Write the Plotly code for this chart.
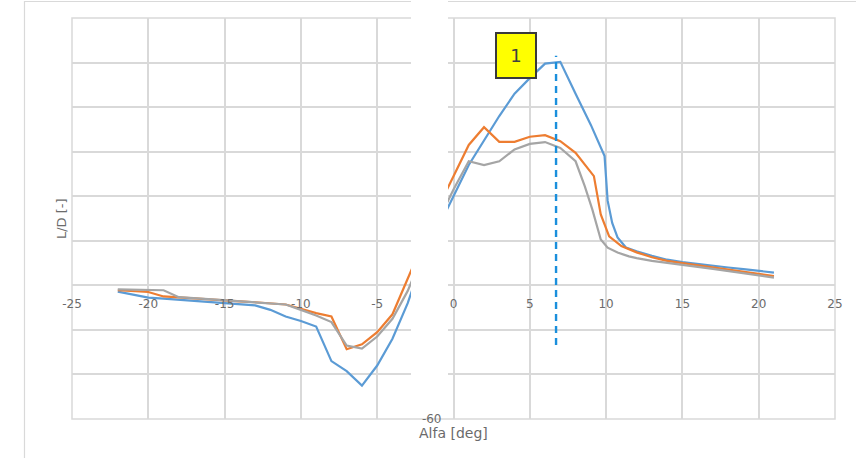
import plotly.graph_objects as go

# ---- data ----
alpha_blue = [-22, -21, -20, -19, -18, -17, -16, -15, -14, -13, -12, -11, -10, -9, -8, -7, -6, -5, -4, -3, -2, -1,
              0, 1, 2, 3, 4, 5, 6, 7, 8, 9, 9.9, 10.1, 10.4, 10.75, 11.3, 12, 13, 14, 15, 16, 17, 18, 19, 20, 21]
ld_blue = [-2.8, -4.3, -5.5, -6.0, -6.5, -6.9, -7.3, -7.8, -8.3, -9.0, -11.0, -14.0, -16.0, -18.5, -34.0, -38.5, -45.0, -36.0, -24.0, -8.0, 12.0, 26.0,
           40.0, 54.0, 65.0, 76.0, 86.0, 93.0, 99.5, 100.3, 86.0, 72.0, 58.0, 38.0, 28.0, 21.5, 17.0, 15.3, 13.3, 11.5, 10.4, 9.5, 8.7, 8.0, 7.3, 6.5, 5.7]

alpha_orange = [-22, -21, -20, -19, -18, -17, -16, -15, -14, -13, -12, -11, -10, -9, -8, -7, -6, -5, -4, -3, -2, -1,
                0, 1, 2, 3, 4, 5, 6, 7, 8, 9.2, 9.65, 10.2, 11, 12, 13, 14, 15, 16, 17, 18, 19, 20, 21]
ld_orange = [-2.2, -2.5, -3.0, -5.0, -5.5, -6.0, -6.4, -6.8, -7.2, -7.6, -8.1, -8.6, -10.5, -12.5, -14.0, -28.7, -26.5, -21.0, -13.0, 3.0, 19.0, 35.0,
             49.0, 63.0, 71.0, 64.4, 64.4, 66.7, 67.4, 64.7, 59.5, 49.0, 31.8, 22.0, 17.6, 14.8, 12.6, 11.0, 10.0, 9.0, 8.0, 7.2, 6.3, 5.3, 4.2]

alpha_gray = [-22, -21, -20, -19, -18, -17, -16, -15, -14, -13, -12, -11, -10, -9, -8, -7, -6, -5, -4, -3, -2, -1,
              0, 1, 2, 3, 4, 5, 6, 7, 8, 8.6, 9.1, 9.65, 10.1, 10.75, 11.5, 12, 13, 14, 15, 16, 17, 18, 19, 20, 21]
ld_gray = [-1.8, -2.0, -2.0, -2.2, -5.3, -5.8, -6.3, -6.8, -7.2, -7.6, -8.1, -8.6, -11.0, -13.5, -16.5, -27.0, -28.4, -23.0, -15.0, -2.5, 14.0, 29.0,
           43.0, 55.7, 54.0, 55.7, 61.0, 63.5, 64.3, 61.7, 55.7, 44.5, 34.0, 20.6, 16.9, 14.7, 13.0, 12.2, 11.0, 10.0, 9.1, 8.3, 7.4, 6.5, 5.5, 4.5, 3.5]

x_ticks = [-25, -20, -15, -10, -5, 0, 5, 10, 15, 20, 25]
x_ticklabels = ["-25", "-20", "-15", "-10", "-5", "0", "5", "10", "15", "20", "25"]
y_ticks = [-60, -40, -20, 0, 20, 40, 60, 80, 100, 120]
y_ticklabels = ["-60", "-40", "-20", "0", "20", "40", "60", "80", "100", "120"]

x_range = [-25, 25]
y_range = [-60, 120]
marker_alpha = 6.72
marker_y = [-26.8, 103.0]
marker_label = "1"

GRID = "#d9d9d9"
TXT = "#6b6b6b"
FONT = "DejaVu Sans"

fig = go.Figure()
fig.add_trace(go.Scatter(x=alpha_blue, y=ld_blue, mode="lines",
                         line=dict(color="#5b9bd5", width=2.2), showlegend=False))
fig.add_trace(go.Scatter(x=alpha_orange, y=ld_orange, mode="lines",
                         line=dict(color="#ed7d31", width=2.2), showlegend=False))
fig.add_trace(go.Scatter(x=alpha_gray, y=ld_gray, mode="lines",
                         line=dict(color="#a5a5a5", width=2.2), showlegend=False))
# dashed marker line
fig.add_trace(go.Scatter(x=[marker_alpha, marker_alpha], y=marker_y, mode="lines",
                         line=dict(color="#1a8fdc", width=2.4, dash="7px,5px"), showlegend=False))

# plot area: left 72, right 835, top 18, bottom 419 in a 856x458 canvas
L, R, T, B = 72, 21, 18, 39
W, H = 856, 458
pw, ph = W - L - R, H - T - B

def px_to_paper_x(px):
    return (px - L) / pw

def px_to_paper_y(py):
    return (H - B - py) / ph

fig.update_layout(
    width=W, height=H,
    margin=dict(l=L, r=R, t=T, b=B, pad=0),
    paper_bgcolor="white", plot_bgcolor="white",
    font=dict(family=FONT, color=TXT, size=12),
    xaxis=dict(range=x_range, tickmode="array", tickvals=x_ticks, ticktext=x_ticklabels,
               showgrid=True, gridcolor=GRID, gridwidth=1.5,
               zeroline=False, showline=False, ticks="", anchor="free", ticklabelstandoff=10,
               position=(0 - y_range[0]) / (y_range[1] - y_range[0]),
               tickfont=dict(family=FONT, size=12, color=TXT)),
    yaxis=dict(range=y_range, tickmode="array", tickvals=y_ticks, ticktext=y_ticklabels,
               showgrid=True, gridcolor=GRID, gridwidth=1.5,
               zeroline=False, showline=False, ticks="", anchor="free", ticklabelstandoff=12,
               position=(0 - x_range[0]) / (x_range[1] - x_range[0]),
               tickfont=dict(family=FONT, size=12, color=TXT)),
)

shapes = []
# plot-area frame lines (grid at the range ends)
shapes.append(dict(type="rect", xref="paper", yref="paper", x0=0, x1=1, y0=0, y1=1,
                   line=dict(color=GRID, width=1.5), layer="below"))
# outer chart border
shapes.append(dict(type="rect", xref="paper", yref="paper",
                   x0=px_to_paper_x(24.5), x1=px_to_paper_x(870), y0=px_to_paper_y(470), y1=px_to_paper_y(1.5),
                   line=dict(color="#d9d9d9", width=1.2), layer="below"))
# white strip covering the vertical axis labels
shapes.append(dict(type="rect", xref="paper", yref="paper",
                   x0=px_to_paper_x(411), x1=px_to_paper_x(448), y0=px_to_paper_y(413), y1=px_to_paper_y(-2),
                   line=dict(width=0), fillcolor="white", layer="above"))
fig.update_layout(shapes=shapes)

fig.add_annotation(x=px_to_paper_x(453), y=px_to_paper_y(433), xref="paper", yref="paper",
                   text="Alfa [deg]", showarrow=False, font=dict(family=FONT, size=14, color=TXT),
                   xanchor="center", yanchor="middle")
fig.add_annotation(x=px_to_paper_x(61), y=px_to_paper_y(219), xref="paper", yref="paper",
                   text="L/D [-]", showarrow=False, textangle=-90, font=dict(family=FONT, size=13, color=TXT),
                   xanchor="center", yanchor="middle")
fig.add_annotation(x=4.1, y=103, xref="x", yref="y", text=marker_label, showarrow=False,
                   font=dict(family=FONT, size=18, color="#404040"),
                   bgcolor="#ffff00", bordercolor="#3a3a3a", borderwidth=2, borderpad=0,
                   width=38, height=43, align="center", xanchor="center", yanchor="middle")

fig.write_html("out.html")
